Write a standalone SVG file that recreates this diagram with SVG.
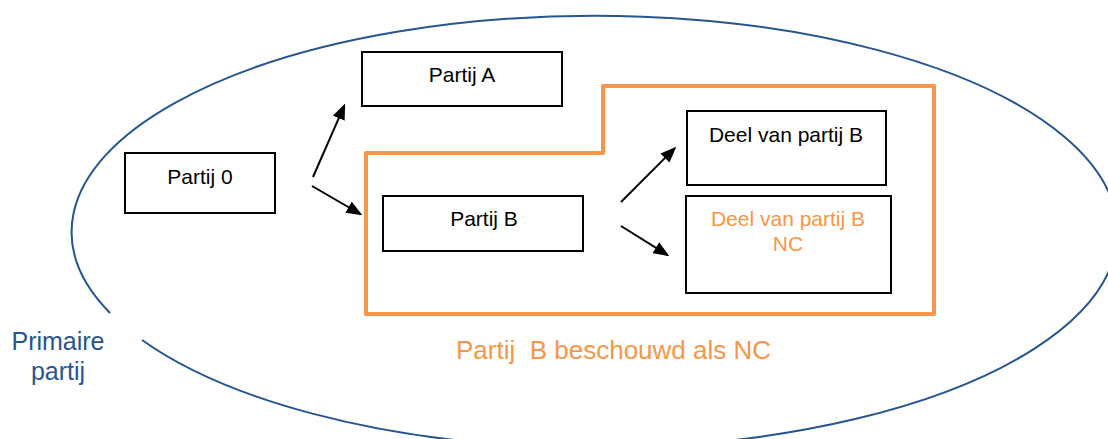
<svg xmlns="http://www.w3.org/2000/svg" width="1108" height="439" viewBox="0 0 1108 439">
  <style>
    .box { fill: #ffffff; stroke: #000000; stroke-width: 2; }
    .lbl { font-family: "Liberation Sans", Arial, sans-serif; font-size: 21px; fill: #000000; text-anchor: middle; }
    .orange { fill: #F79646; }
    .blue { font-family: "Liberation Sans", Arial, sans-serif; font-size: 25px; fill: #265590; text-anchor: middle; }
    .big { font-family: "Liberation Sans", Arial, sans-serif; font-size: 26px; fill: #F79646; white-space: pre; }
    .arrow { stroke: #000000; stroke-width: 2; fill: none; marker-end: url(#head); }
  </style>
  <defs>
    <marker id="head" viewBox="0 0 10 8" markerWidth="8" markerHeight="6.4" refX="8.5" refY="4" orient="auto" markerUnits="strokeWidth">
      <path d="M0,0 L10,4 L0,8 z" fill="#000000"/>
    </marker>
  </defs>
  <rect width="1108" height="439" fill="#ffffff"/>

  <g id="primaire-partij">
    <path d="M 142 340 A 523 216 0 1 0 110 313" fill="none" stroke="#265590" stroke-width="2"/>
    <text class="blue" x="58" y="350">Primaire</text>
    <text class="blue" x="58" y="380">partij</text>
  </g>

  <g id="nc-region">
    <path d="M 366 314 L 366 153 L 603 153 L 603 86 L 934 86 L 934 314 Z" fill="none" stroke="#F79646" stroke-width="4" stroke-linejoin="round"/>
    <text class="big" x="456" y="359" xml:space="preserve">Partij  B beschouwd als NC</text>
  </g>

  <g id="partij-0">
    <rect class="box" x="125" y="153" width="150" height="60"/>
    <text class="lbl" x="200" y="184">Partij 0</text>
  </g>

  <g id="partij-a">
    <rect class="box" x="362" y="52" width="200" height="54"/>
    <text class="lbl" x="462" y="82">Partij A</text>
  </g>

  <g id="partij-b">
    <rect class="box" x="383" y="196" width="200" height="55"/>
    <text class="lbl" x="484" y="226">Partij B</text>
  </g>

  <g id="deel-b">
    <rect class="box" x="687" y="111" width="199" height="74"/>
    <text class="lbl" x="786" y="142">Deel van partij B</text>
  </g>

  <g id="deel-b-nc">
    <rect class="box" x="686" y="196" width="205" height="97"/>
    <text class="lbl orange" x="788" y="226">Deel van partij B</text>
    <text class="lbl orange" x="788" y="251">NC</text>
  </g>

  <g id="connectors">
    <line class="arrow" x1="313" y1="177" x2="344.2" y2="105.8"/>
    <line class="arrow" x1="312" y1="186" x2="360.3" y2="214"/>
    <line class="arrow" x1="621" y1="202" x2="674.6" y2="148.4"/>
    <line class="arrow" x1="621" y1="226" x2="667.3" y2="254.9"/>
  </g>
</svg>
